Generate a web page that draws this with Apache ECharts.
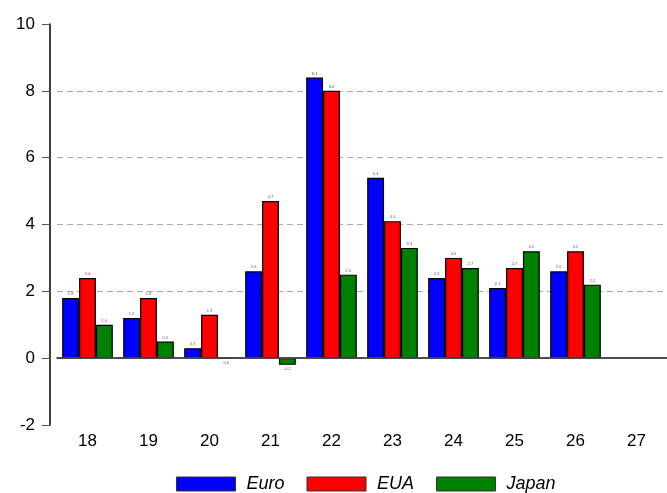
<!DOCTYPE html>
<html><head><meta charset="utf-8">
<script src="https://cdn.jsdelivr.net/npm/echarts@6/dist/echarts.min.js"></script>
<style>html,body{margin:0;padding:0;background:#fff}#c{width:667px;height:493px}</style>
</head><body><div id="c"></div>
<script>
var categories = ['18','19','20','21','22','23','24','25','26','27'];
var euro  = [1.8, 1.2, 0.3, 2.6, 8.4, 5.4, 2.4, 2.1, 2.6, null];
var eua   = [2.4, 1.8, 1.3, 4.7, 8.0, 4.1, 3.0, 2.7, 3.2, null];
var japan = [1.0, 0.5, 0.0, -0.2, 2.5, 3.3, 2.7, 3.2, 2.2, null];
var yTicks = [-2, 0, 2, 4, 6, 8, 10];

function mk(arr){
  return arr.map(function(v){
    if(v===null) return null;
    return {value:v, label:{position: v>0 ? 'top' : 'bottom'}};
  });
}
function series(name, arr, color, extra){
  var s = {
    name:name, type:'bar', data:mk(arr), barGap:'0%', barCategoryGap:'17%',
    itemStyle:{color:color, borderColor:'#000', borderWidth:1.2},
    label:{show:true, fontSize:4, color:'#555', distance:2,
      formatter:function(p){return Number(p.value).toFixed(1);}}
  };
  for(var k in extra) s[k]=extra[k];
  return s;
}
var gridColors = yTicks.map(function(v){ return (v===10||v===-2) ? 'rgba(0,0,0,0)' : '#aaa'; });
var chart = echarts.init(document.getElementById('c'));
chart.setOption({
  animation:false,
  grid:{left:57, right:-4, top:24, bottom:68},
  legend:{
    left:176, top:475, padding:0, itemWidth:59, itemHeight:14, itemGap:22, icon:'rect',
    itemStyle:{borderColor:'#333', borderWidth:1},
    textStyle:{fontFamily:'Liberation Sans', fontStyle:'italic', fontSize:18, color:'#000', padding:[0,0,0,6]},
    data:['Euro','EUA','Japan']
  },
  xAxis:{
    type:'category', data:categories,
    axisLine:{lineStyle:{color:'#000', width:1.5}},
    axisTick:{alignWithLabel:true, length:6, lineStyle:{color:'#000'}},
    axisLabel:{fontFamily:'Liberation Sans', fontSize:17, color:'#000', margin:8}
  },
  yAxis:{
    type:'value', min:-2, max:10, interval:2, offset:7,
    axisLine:{show:true, lineStyle:{color:'#000', width:1.5}},
    axisTick:{show:true, length:8, lineStyle:{color:'#555'}},
    axisLabel:{fontFamily:'Liberation Sans', fontSize:17, color:'#000', margin:15,
      formatter:function(v){return yTicks.indexOf(v)>=0 ? String(v) : '';}},
    splitLine:{show:true, lineStyle:{color:gridColors, type:[6,4], width:1}}
  },
  series:[
    series('Euro', euro, '#0000ff', {}),
    series('EUA', eua, '#ff0000', {}),
    series('Japan', japan, '#008000', {
      markLine:{silent:true, symbol:'none', label:{show:false},
        lineStyle:{color:'#555', type:'solid', width:1.5},
        data:[{yAxis:0}]}
    })
  ]
});
</script></body></html>
